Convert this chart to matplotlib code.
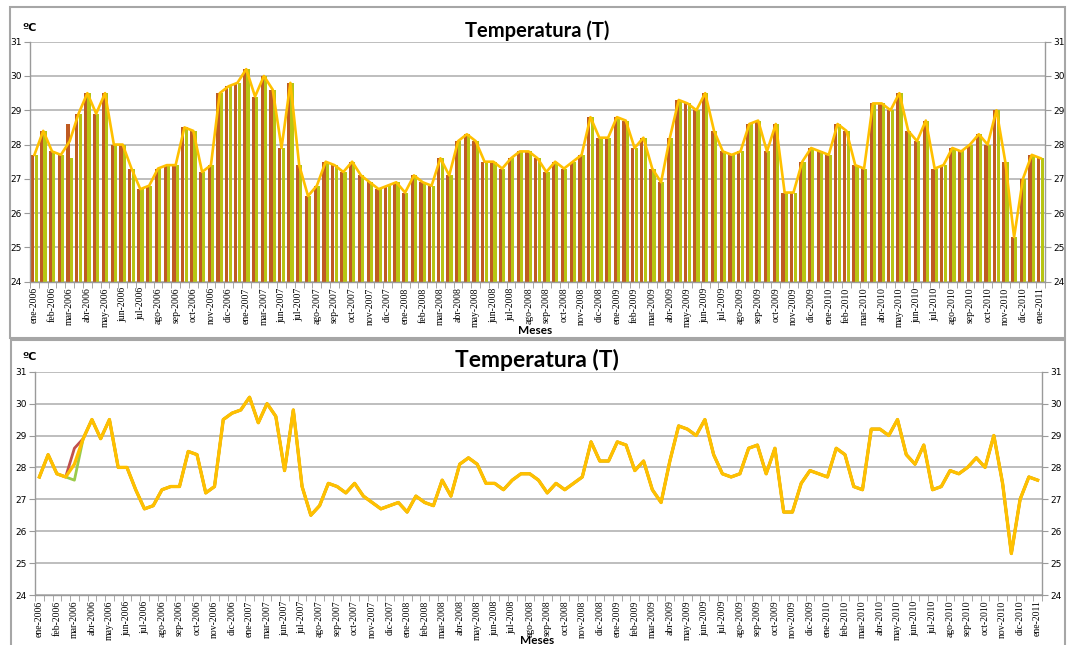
import numpy as np
import matplotlib
matplotlib.use("Agg")
import matplotlib.pyplot as plt
from matplotlib.patches import Rectangle

# Temperatura media (ºC), dos registros por mes
temp_prom = [27.7, 28.4, 27.8, 27.7, 28.1, 28.9, 29.5, 28.9, 29.5, 28.0,
             28.0, 27.3, 26.7, 26.8, 27.3, 27.4, 27.4, 28.5, 28.4, 27.2,
             27.4, 29.5, 29.7, 29.8, 30.2, 29.4, 30.0, 29.6, 27.9, 29.8,
             27.4, 26.5, 26.8, 27.5, 27.4, 27.2, 27.5, 27.1, 26.9, 26.7,
             26.8, 26.9, 26.6, 27.1, 26.9, 26.8, 27.6, 27.1, 28.1, 28.3,
             28.1, 27.5, 27.5, 27.3, 27.6, 27.8, 27.8, 27.6, 27.2, 27.5,
             27.3, 27.5, 27.7, 28.8, 28.2, 28.2, 28.8, 28.7, 27.9, 28.2,
             27.3, 26.9, 28.2, 29.3, 29.2, 29.0, 29.5, 28.4, 27.8, 27.7,
             27.8, 28.6, 28.7, 27.8, 28.6, 26.6, 26.6, 27.5, 27.9, 27.8,
             27.7, 28.6, 28.4, 27.4, 27.3, 29.2, 29.2, 29.0, 29.5, 28.4,
             28.1, 28.7, 27.3, 27.4, 27.9, 27.8, 28.0, 28.3, 28.0, 29.0,
             27.5, 25.3, 27.0, 27.7, 27.6]

# las dos series solo difieren en mar-2006
temp_a = list(temp_prom)
temp_b = list(temp_prom)
temp_a[4] = 28.6
temp_b[4] = 27.6

meses = ["ene-2006", "feb-2006", "mar-2006", "abr-2006", "may-2006", "jun-2006",
         "jul-2006", "ago-2006", "sep-2006", "oct-2006", "nov-2006", "dic-2006",
         "ene-2007", "mar-2007", "jun-2007", "jul-2007", "ago-2007", "sep-2007",
         "oct-2007", "nov-2007", "dic-2007", "ene-2008", "feb-2008", "mar-2008",
         "abr-2008", "may-2008", "jun-2008", "jul-2008", "ago-2008", "sep-2008",
         "oct-2008", "nov-2008", "dic-2008", "ene-2009", "feb-2009", "mar-2009",
         "abr-2009", "may-2009", "jun-2009", "jul-2009", "ago-2009", "sep-2009",
         "oct-2009", "nov-2009", "dic-2009", "ene-2010", "feb-2010", "mar-2010",
         "abr-2010", "may-2010", "jun-2010", "jul-2010", "ago-2010", "sep-2010",
         "oct-2010", "nov-2010", "dic-2010", "ene-2011"]

n = len(temp_prom)
x = np.arange(n)

W, H = 1069, 645
fig = plt.figure(figsize=(W / 100, H / 100), dpi=100)

grid_c = "#BEBEBE"
axis_c = "#9A9A9A"


def px_axes(l, t, r, b):
    return fig.add_axes([l / W, 1 - b / H, (r - l) / W, (b - t) / H])


def style_axes(ax):
    ax.set_xlim(-0.5, n - 0.5)
    ax.set_ylim(24, 31)
    ax.set_yticks(range(24, 32))
    ax.yaxis.grid(True, color=grid_c, lw=1.4)
    ax.set_axisbelow(True)
    ax.spines["top"].set_visible(False)
    for s in ["left", "right", "bottom"]:
        ax.spines[s].set_color(axis_c)
        ax.spines[s].set_linewidth(1.0)
    ax.tick_params(axis="y", left=True, right=True, labelleft=True, labelright=True,
                   length=4, color=axis_c, labelsize=6.5, pad=2)
    for lab in ax.get_yticklabels():
        lab.set_family("DejaVu Sans")
    ax.set_xticks(x[::2])
    ax.set_xticklabels(meses, rotation=90, fontsize=7, family="Liberation Serif")
    ax.set_xticks(np.arange(n + 1) - 0.5, minor=True)
    ax.tick_params(axis="x", which="major", length=0, pad=4)
    ax.tick_params(axis="x", which="minor", length=4, color=axis_c)


# panel borders
fig.add_artist(Rectangle((10 / W, 1 - 338 / H), 1055 / W, 331 / H, transform=fig.transFigure,
                         fill=False, ec="#A6A6A6", lw=1.5))
fig.add_artist(Rectangle((11 / W, -0.02), 1054 / W, 1 - 340 / H + 0.02, transform=fig.transFigure,
                         fill=False, ec="#A6A6A6", lw=1.5))

# grafico de barras
ax1 = px_axes(30, 41.7, 1045, 281.7)
style_axes(ax1)
ax1.bar(x - 0.19, temp_a, width=0.36, color="#BF5B22", zorder=2)
ax1.bar(x + 0.19, temp_b, width=0.36, color="#B7C514", zorder=2)
ax1.plot(x, temp_prom, color="#FFC000", lw=1.9, zorder=3)

fig.text(537 / W, 1 - 31 / H, "Temperatura (T)", ha="center", va="center",
         fontsize=14.5, fontweight="bold", family="Lato")
fig.text(22 / W, 1 - 28 / H, "ºC", ha="left", va="center", fontsize=8,
         fontweight="bold", family="DejaVu Sans")
fig.text(535 / W, 1 - 330 / H, "Meses", ha="center", va="center", fontsize=8.5,
         fontweight="bold", family="Lato")

# grafico de lineas
ax2 = px_axes(35, 371.7, 1042, 595)
style_axes(ax2)
ax2.plot(x, temp_a, color="#C0504D", lw=2.0, zorder=2)
ax2.plot(x, temp_b, color="#9BCB4A", lw=2.0, zorder=2)
ax2.plot(x, temp_prom, color="#FFC000", lw=2.4, zorder=3)

fig.text(537 / W, 1 - 360 / H, "Temperatura (T)", ha="center", va="center",
         fontsize=16.5, fontweight="bold", family="Lato")
fig.text(22 / W, 1 - 357 / H, "ºC", ha="left", va="center", fontsize=8,
         fontweight="bold", family="DejaVu Sans")
fig.text(537 / W, 1 - 641 / H, "Meses", ha="center", va="center", fontsize=8.5,
         fontweight="bold", family="Lato")

fig.savefig("out.png", dpi=100)
